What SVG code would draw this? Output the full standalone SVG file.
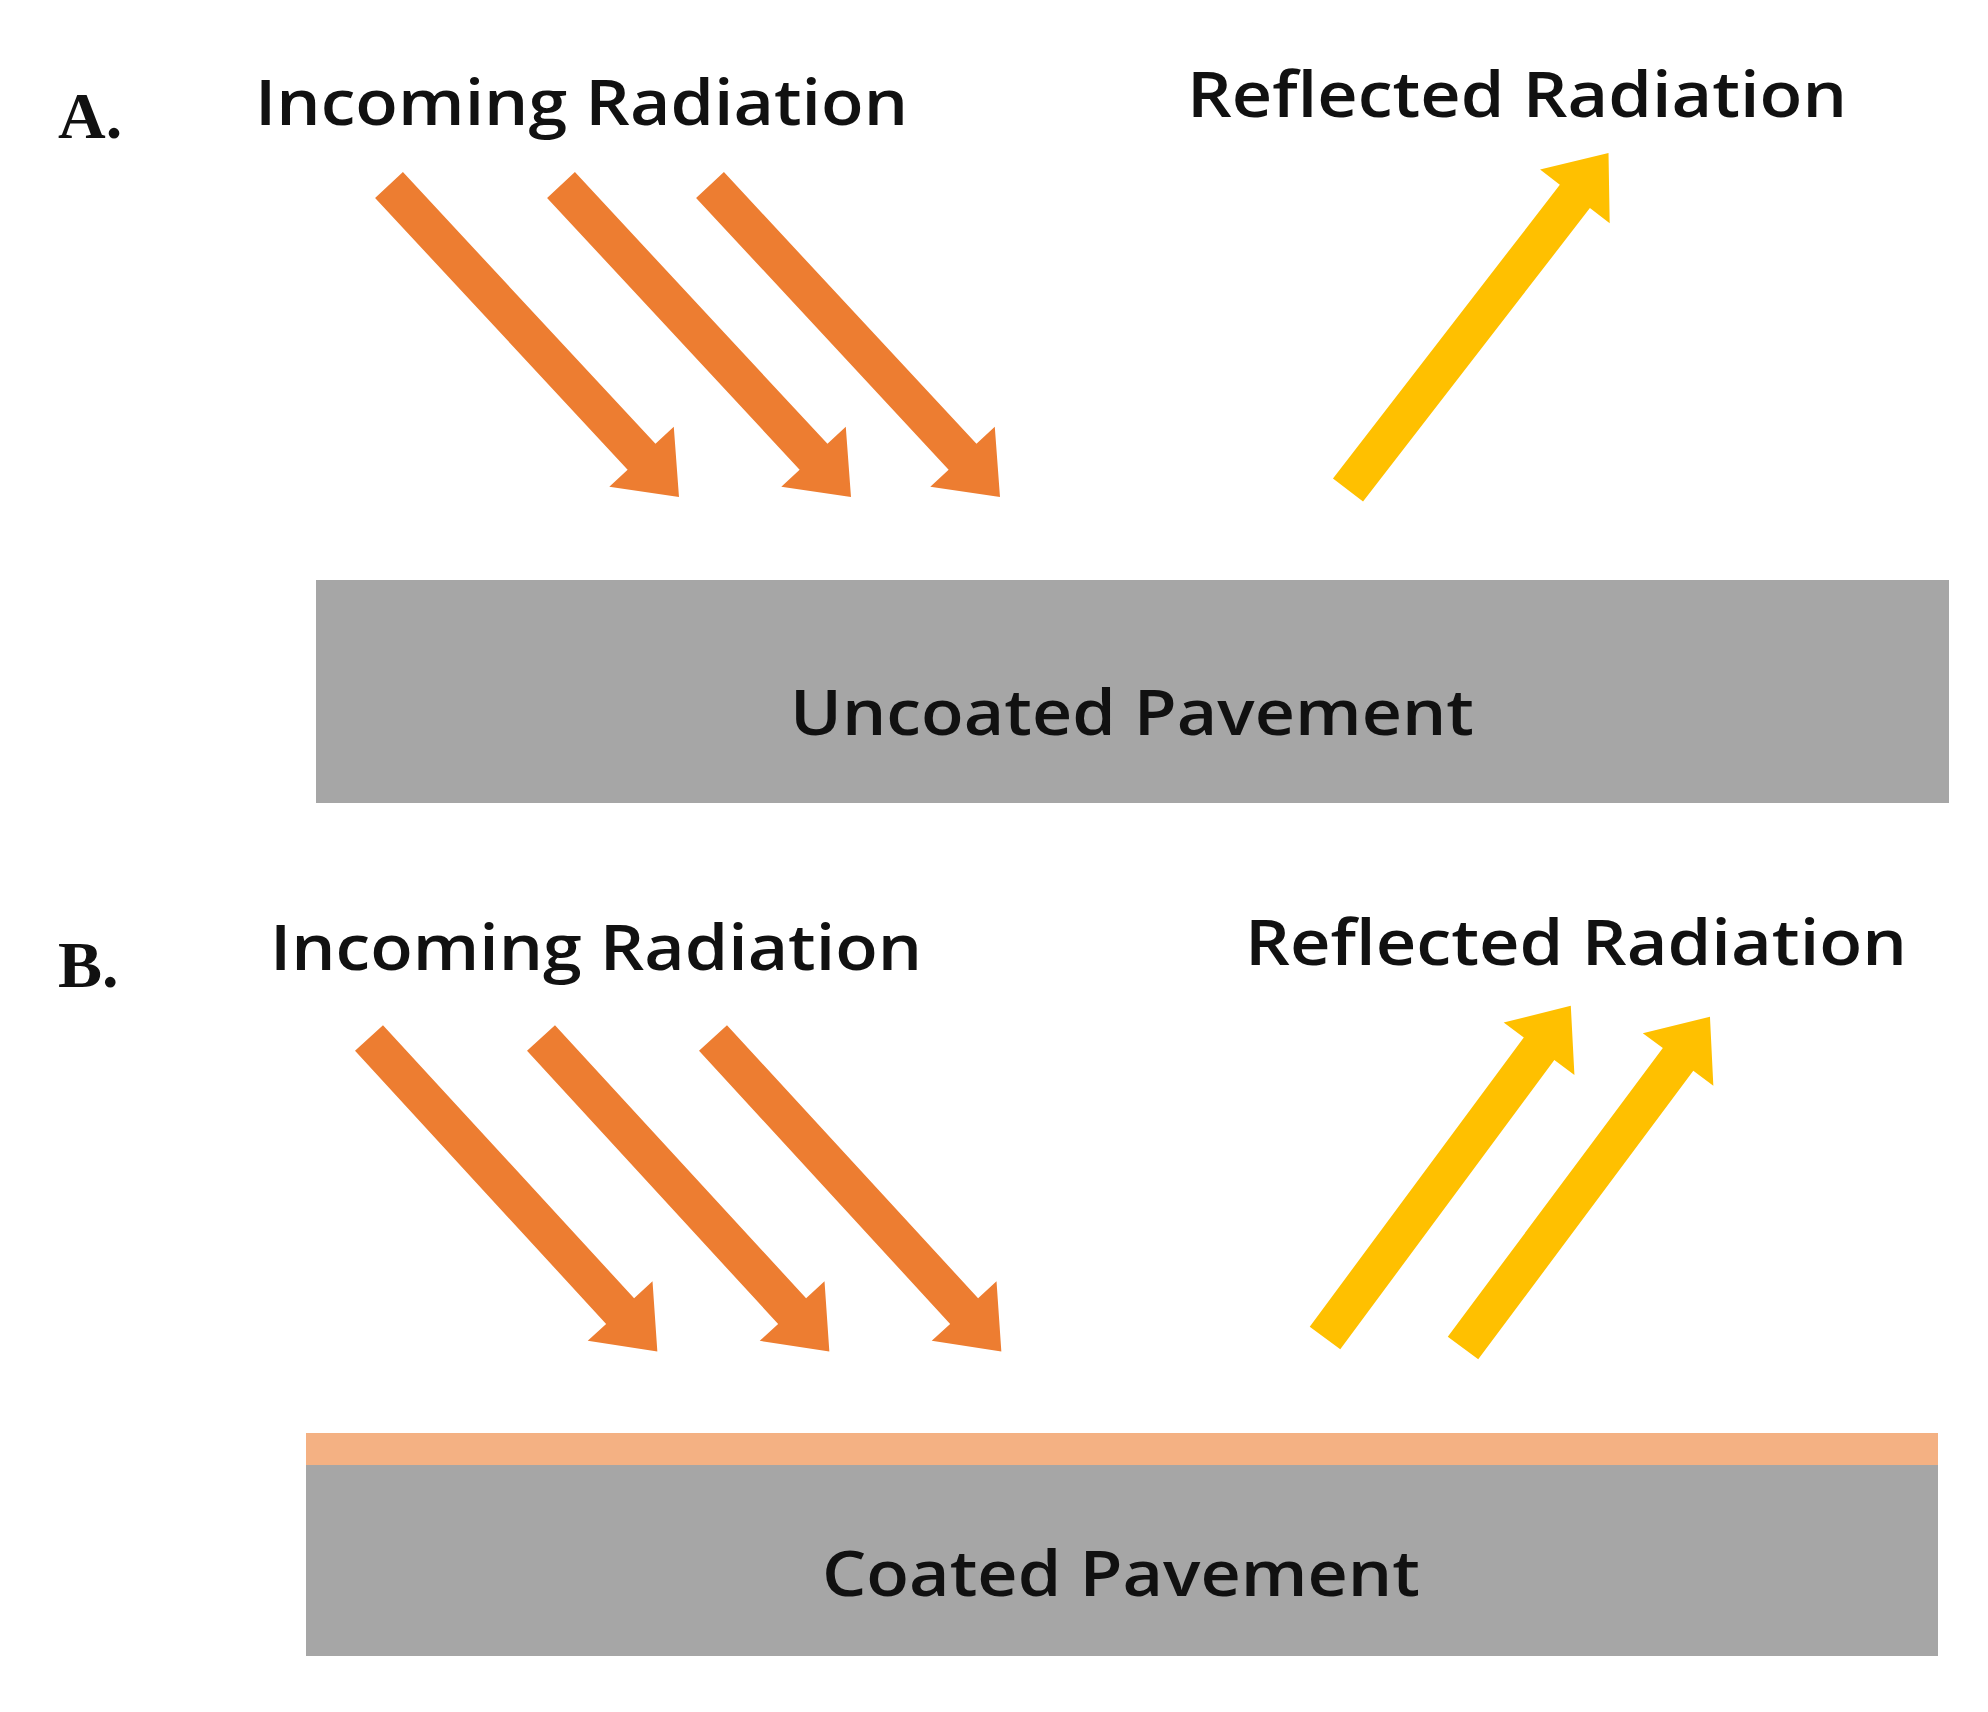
<svg xmlns="http://www.w3.org/2000/svg" width="1988" height="1712" viewBox="0 0 1988 1712">
<style>
.lbl{font-family:"Liberation Serif",serif;font-weight:bold;font-size:66px;fill:#111}
.t{font-family:"Open Sans","Liberation Sans",sans-serif;font-weight:600;font-size:64px;fill:#111}
.in{fill:#ED7D31}.out{fill:#FFC000}
</style>
<defs>
<polygon id="a426" points="0,-19 371,-19 371,-44 426,0 371,44 371,19 0,19"/>
</defs>
<rect width="1988" height="1712" fill="#fff"/>
<g id="panelA">
<text class="lbl" x="58" y="138">A.</text>
<text class="t" x="255" y="125" textLength="653" lengthAdjust="spacingAndGlyphs">Incoming Radiation</text>
<text class="t" x="1187" y="117" textLength="660" lengthAdjust="spacingAndGlyphs">Reflected Radiation</text>
<g id="pavementA"><rect x="316" y="580" width="1633" height="223" fill="#A6A6A6"/>
<text class="t" x="790" y="735" textLength="684" lengthAdjust="spacingAndGlyphs">Uncoated Pavement</text></g>
</g>
<g id="panelB">
<text class="lbl" x="58" y="987">B.</text>
<text class="t" x="270" y="970" textLength="652" lengthAdjust="spacingAndGlyphs">Incoming Radiation</text>
<text class="t" x="1245" y="965" textLength="662" lengthAdjust="spacingAndGlyphs">Reflected Radiation</text>
<g id="pavementB"><rect x="306" y="1433" width="1632" height="32" fill="#F4B183"/>
<rect x="306" y="1465" width="1632" height="191" fill="#A6A6A6"/>
<text class="t" x="822" y="1596" textLength="598" lengthAdjust="spacingAndGlyphs">Coated Pavement</text></g>
</g>
<g id="connectors">
<use href="#a426" class="in" transform="translate(389,185) rotate(47.1)"/>
<use href="#a426" class="in" transform="translate(561,185) rotate(47.1)"/>
<use href="#a426" class="in" transform="translate(710,185) rotate(47.1)"/>
<use href="#a426" class="out" transform="translate(1348,490) rotate(-52.3)"/>
<use href="#a426" class="in" transform="translate(369,1038) rotate(47.4)"/>
<use href="#a426" class="in" transform="translate(541,1038) rotate(47.4)"/>
<use href="#a426" class="in" transform="translate(713,1038) rotate(47.4)"/>
<use href="#a426" class="out" transform="translate(1325,1338) rotate(-53.5) scale(0.97,1)"/>
<use href="#a426" class="out" transform="translate(1463,1348) rotate(-53.3) scale(0.97,1)"/>
</g>
</svg>
